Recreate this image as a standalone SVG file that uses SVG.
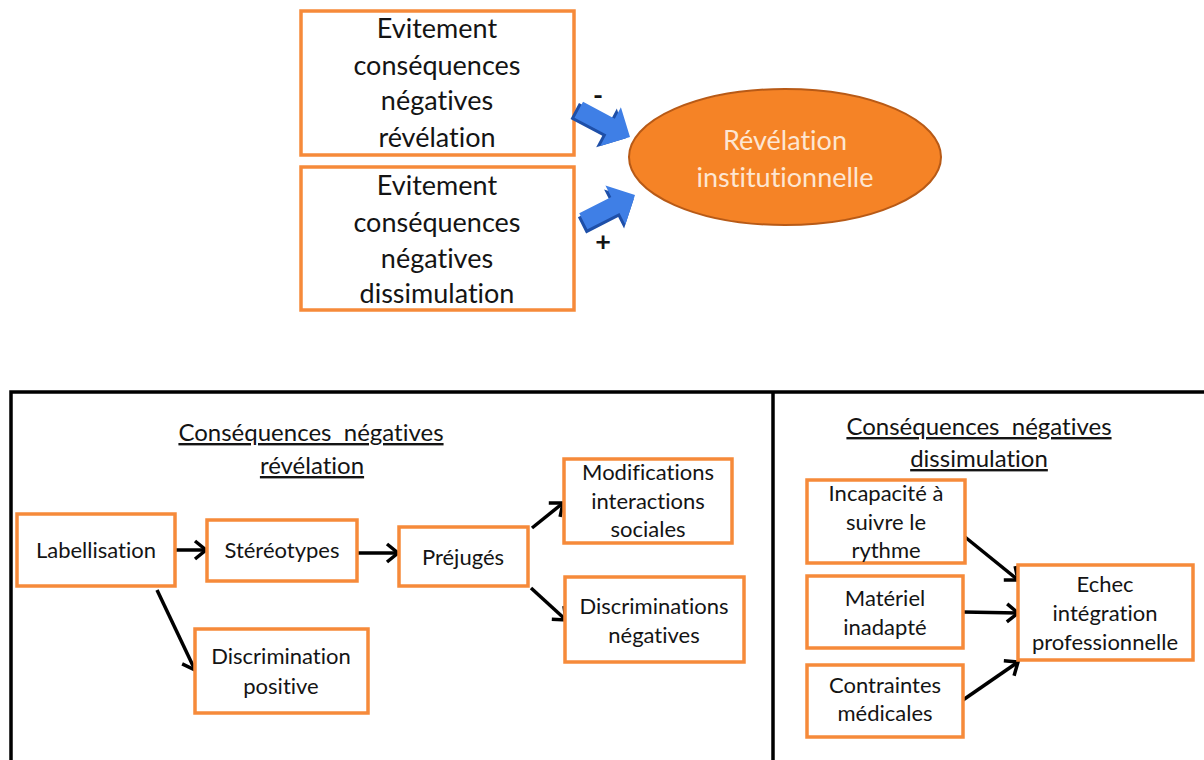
<svg xmlns="http://www.w3.org/2000/svg" width="1204" height="760" viewBox="0 0 1204 760">
<style>
.box{fill:#fff;stroke:#F68A3A;stroke-width:3.5}
.t{font-family:Lato,"Open Sans","Liberation Sans",sans-serif;fill:#141414;text-anchor:middle;font-variant-ligatures:none}
.big{font-size:27px}
.mid{font-size:22px}
.hd{font-size:24px;text-decoration:underline;white-space:pre}
.ar{fill:none;stroke:#000;stroke-width:3.5;marker-end:url(#head)}
</style>
<defs>
<marker id="head" markerUnits="userSpaceOnUse" markerWidth="18" markerHeight="22" refX="14" refY="11" orient="auto">
<path d="M3,2 L14,11 L3,20" fill="none" stroke="#000" stroke-width="3.5"/>
</marker>
<path id="blk" d="M-58,-9 L-22,-9 L-22,-22 L0,0 L-22,22 L-22,9 L-58,9 Z"/>
</defs>
<rect width="1204" height="760" fill="#fff"/>

<g id="top-box-1">
<rect class="box" x="301" y="11" width="273" height="144"/>
<text class="t big" x="437" y="38">Evitement</text>
<text class="t big" x="437" y="75">conséquences</text>
<text class="t big" x="437" y="110">négatives</text>
<text class="t big" x="437" y="147">révélation</text>
</g>
<g id="top-box-2">
<rect class="box" x="301" y="167" width="273" height="143"/>
<text class="t big" x="437" y="195">Evitement</text>
<text class="t big" x="437" y="232">conséquences</text>
<text class="t big" x="437" y="268">négatives</text>
<text class="t big" x="437" y="303">dissimulation</text>
</g>
<g id="revelation">
<ellipse cx="785" cy="157" rx="156" ry="68" fill="#F58326" stroke="#B85A16" stroke-width="2"/>
<text class="t" x="785" y="150" style="fill:#FDE6D2;font-size:27px">Révélation</text>
<text class="t" x="785" y="187" style="fill:#FDE6D2;font-size:27px">institutionnelle</text>
</g>

<g id="connectors">
<g transform="translate(630,137) rotate(28)">
<use href="#blk" transform="translate(-3,3)" fill="#1E4FA8"/>
<use href="#blk" fill="#3F7FE6"/>
</g>
<g transform="translate(635,195) rotate(-27)">
<use href="#blk" transform="translate(-3,3)" fill="#1E4FA8"/>
<use href="#blk" fill="#3F7FE6"/>
</g>
<text class="t" x="598" y="105" style="font-weight:bold;font-size:27px">-</text>
<text class="t" x="603" y="251" style="font-weight:bold;font-size:27px">+</text>

<line class="ar" x1="175" y1="550" x2="206" y2="550"/>
<line class="ar" x1="357" y1="553" x2="398" y2="553"/>
<line class="ar" x1="532" y1="528" x2="563" y2="503"/>
<line class="ar" x1="531" y1="588" x2="566" y2="620"/>
<line class="ar" x1="157" y1="590" x2="195" y2="670"/>
<line class="ar" x1="965" y1="537" x2="1018" y2="580"/>
<line class="ar" x1="963" y1="612" x2="1018" y2="613"/>
<line class="ar" x1="963" y1="700" x2="1018" y2="662"/>
</g>

<g id="frame">
<rect x="11" y="392" width="1200" height="380" fill="none" stroke="#000" stroke-width="3.5"/>
<line x1="773" y1="392" x2="773" y2="760" stroke="#000" stroke-width="3.5"/>
</g>

<g id="heading-left">
<text class="t hd" x="311" y="441">Conséquences  négatives</text>
<text class="t hd" x="312" y="474">révélation</text>
</g>
<g id="heading-right">
<text class="t hd" x="979" y="435">Conséquences  négatives</text>
<text class="t hd" x="979" y="467">dissimulation</text>
</g>

<g id="labellisation">
<rect class="box" x="17" y="514" width="158" height="72"/>
<text class="t mid" x="96" y="558">Labellisation</text>
</g>
<g id="stereotypes">
<rect class="box" x="207" y="520" width="150" height="61"/>
<text class="t mid" x="282" y="558">Stéréotypes</text>
</g>
<g id="prejuges">
<rect class="box" x="399" y="527" width="129" height="59"/>
<text class="t mid" x="463" y="565">Préjugés</text>
</g>
<g id="modifications">
<rect class="box" x="564" y="459" width="168" height="84"/>
<text class="t mid" x="648" y="480">Modifications</text>
<text class="t mid" x="648" y="509">interactions</text>
<text class="t mid" x="648" y="537">sociales</text>
</g>
<g id="discriminations-negatives">
<rect class="box" x="565" y="577" width="179" height="85"/>
<text class="t mid" x="654" y="614">Discriminations</text>
<text class="t mid" x="654" y="643">négatives</text>
</g>
<g id="discrimination-positive">
<rect class="box" x="195" y="629" width="173" height="84"/>
<text class="t mid" x="281" y="664">Discrimination</text>
<text class="t mid" x="281" y="694">positive</text>
</g>

<g id="incapacite">
<rect class="box" x="807" y="480" width="158" height="83"/>
<text class="t mid" x="886" y="501">Incapacité à</text>
<text class="t mid" x="886" y="530">suivre le</text>
<text class="t mid" x="886" y="558">rythme</text>
</g>
<g id="materiel">
<rect class="box" x="807" y="576" width="156" height="72"/>
<text class="t mid" x="885" y="606">Matériel</text>
<text class="t mid" x="885" y="635">inadapté</text>
</g>
<g id="contraintes">
<rect class="box" x="807" y="665" width="156" height="72"/>
<text class="t mid" x="885" y="693">Contraintes</text>
<text class="t mid" x="885" y="721">médicales</text>
</g>
<g id="echec">
<rect class="box" x="1018" y="565" width="175" height="95"/>
<text class="t mid" x="1105" y="592">Echec</text>
<text class="t mid" x="1105" y="621">intégration</text>
<text class="t mid" x="1105" y="650">professionnelle</text>
</g>
</svg>
